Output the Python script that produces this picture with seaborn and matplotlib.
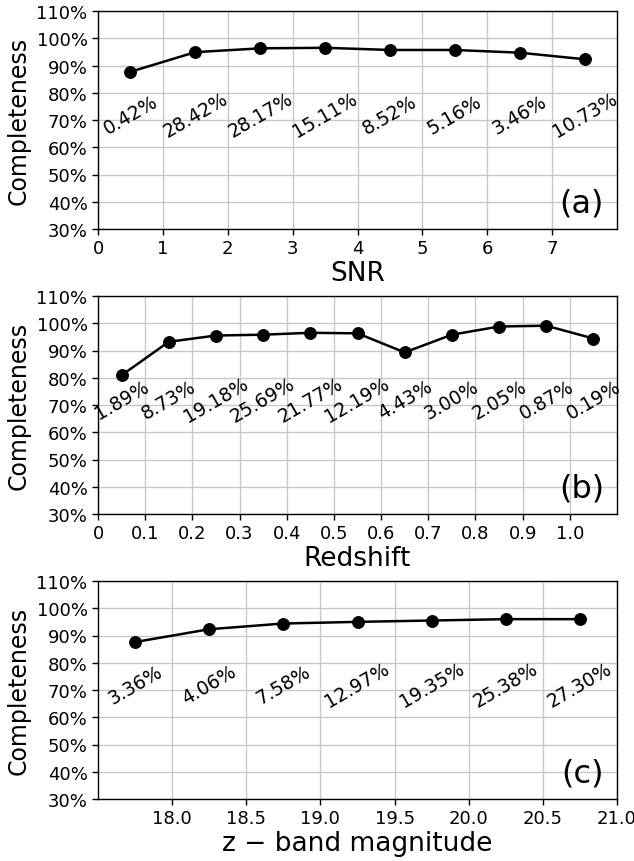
import numpy as np
import pandas as pd
import matplotlib
matplotlib.use("Agg")
import matplotlib.pyplot as plt
import seaborn as sns
from matplotlib.ticker import FuncFormatter

# Panel (a): SNR
snr_x = [0.5, 1.5, 2.5, 3.5, 4.5, 5.5, 6.5, 7.5]
snr_comp = [87.7, 94.9, 96.3, 96.5, 95.7, 95.7, 94.7, 92.3]
snr_frac = ["0.42%", "28.42%", "28.17%", "15.11%", "8.52%", "5.16%", "3.46%", "10.73%"]

# Panel (b): Redshift
z_x = [0.05, 0.15, 0.25, 0.35, 0.45, 0.55, 0.65, 0.75, 0.85, 0.95, 1.05]
z_comp = [80.9, 93.2, 95.5, 95.8, 96.5, 96.3, 89.3, 95.8, 98.8, 99.1, 94.4]
z_frac = ["1.89%", "8.73%", "19.18%", "25.69%", "21.77%", "12.19%", "4.43%",
          "3.00%", "2.05%", "0.87%", "0.19%"]

# Panel (c): z-band magnitude
mag_x = [17.75, 18.25, 18.75, 19.25, 19.75, 20.25, 20.75]
mag_comp = [87.6, 92.3, 94.4, 95.0, 95.5, 96.0, 96.0]
mag_frac = ["3.36%", "4.06%", "7.58%", "12.97%", "19.35%", "25.38%", "27.30%"]

sns.set_style("ticks")
plt.rcParams['font.family'] = ['DejaVu Sans']
plt.rcParams['text.color'] = 'black'
plt.rcParams['axes.labelcolor'] = 'black'
plt.rcParams['xtick.color'] = 'black'
plt.rcParams['ytick.color'] = 'black'

fig = plt.figure(figsize=(6.34, 8.62), dpi=100)
W, H = 634, 862
left, right = 98 / W, 617 / W
tops = [12, 297, 582]
ph = 218

panels = [
    (snr_x, snr_comp, snr_frac, "SNR", (0, 8), np.arange(0, 8, 1), lambda v, p: f"{int(v)}", "(a)"),
    (z_x, z_comp, z_frac, "Redshift", (0, 1.1), np.arange(0, 1.01, 0.1),
     lambda v, p: "0" if abs(v) < 1e-9 else f"{v:.1f}", "(b)"),
    (mag_x, mag_comp, mag_frac, "z − band magnitude", (17.5, 21.0), np.arange(18.0, 21.01, 0.5),
     lambda v, p: f"{v:.1f}", "(c)"),
]

for (xs, ys, labs, xlabel, xlim, xticks, fmt, tag), top in zip(panels, tops):
    ax = fig.add_axes([left, 1 - (top + ph) / H, right - left, ph / H])
    df = pd.DataFrame({"x": xs, "y": ys})
    sns.lineplot(data=df, x="x", y="y", ax=ax, color="black", marker="o",
                 markersize=8.5, linewidth=1.8, markeredgecolor="black", zorder=3)
    for x, lab in zip(xs, labs):
        ax.text(x, 72, lab, rotation=30, ha="center", va="center", fontsize=13.5,
                color="black", zorder=4)
    ax.set_xlim(*xlim)
    ax.set_ylim(30, 110)
    ax.set_xticks(xticks)
    ax.xaxis.set_major_formatter(FuncFormatter(fmt))
    ax.set_yticks(np.arange(30, 111, 10))
    ax.yaxis.set_major_formatter(FuncFormatter(lambda v, p: f"{int(round(v))}%"))
    ax.grid(True, color="#c8c8c8", linewidth=1.0)
    ax.set_axisbelow(True)
    ax.tick_params(labelsize=13, length=4, width=1, colors="black")
    for s in ax.spines.values():
        s.set_color("black")
        s.set_linewidth(1.0)
    ax.set_xlabel(xlabel, fontsize=19, labelpad=2, color="black")
    ax.set_ylabel("Completeness", fontsize=17, labelpad=4, color="black")
    ax.text(0.975, 0.05, tag, transform=ax.transAxes, ha="right", va="bottom",
            fontsize=23, color="black")

fig.savefig("out.png", dpi=100)
